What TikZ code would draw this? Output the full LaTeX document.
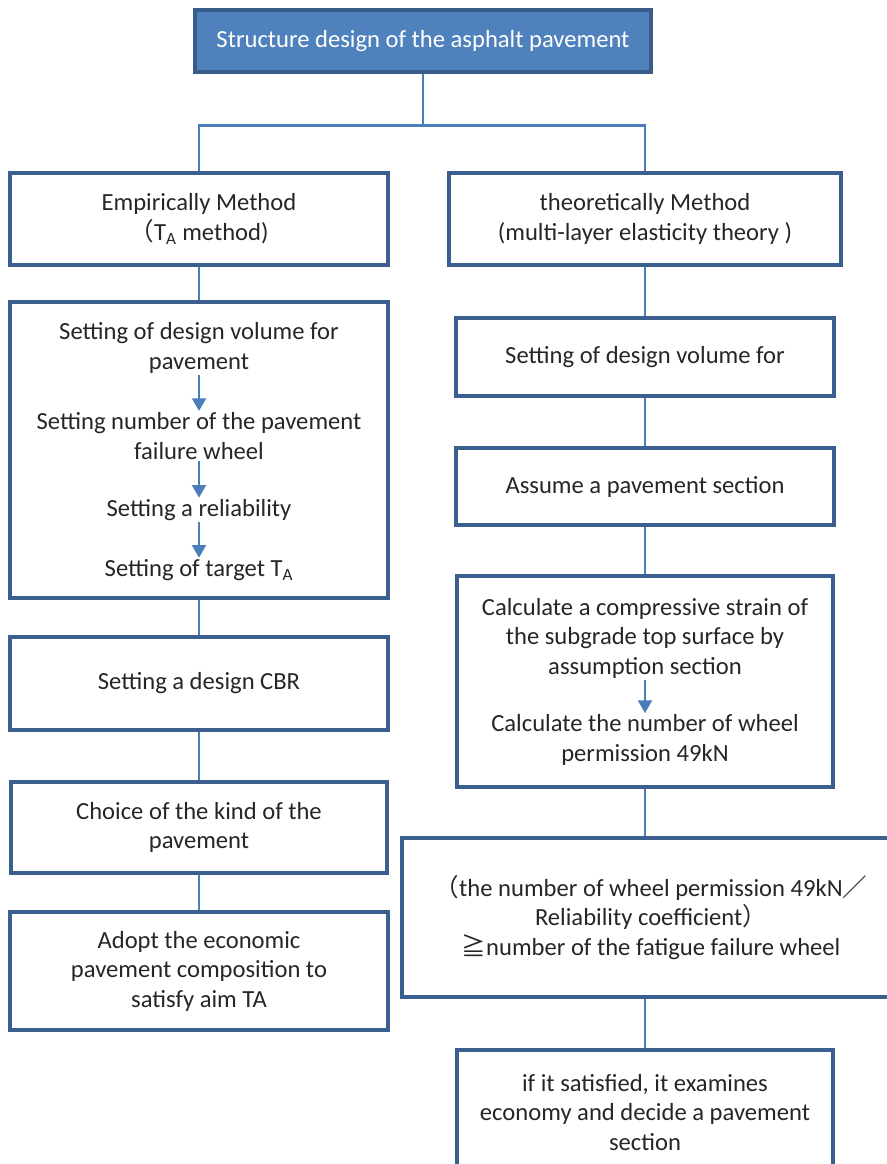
\documentclass[tikz,border=0pt]{standalone}
\usepackage{fontspec}
\setmainfont{Carlito}
\newfontfamily\cjk{Noto Sans CJK JP}
\usetikzlibrary{arrows.meta}
\definecolor{boxblue}{HTML}{3B5F8E}
\definecolor{lineblue}{HTML}{4A7EBB}
\definecolor{headfill}{HTML}{4F81BD}
\definecolor{headline}{HTML}{385D8A}
\begin{document}
\begin{tikzpicture}[x=0.025cm,y=-0.025cm,font=\fontsize{17.5}{21}\selectfont,
        box/.style={draw=boxblue,line width=2.4pt,fill=white,text=black!85,align=center,inner sep=0pt},
        item/.style={text=black!85,align=center,inner sep=1pt},
        link/.style={draw=lineblue,line width=1.9pt},
        flow/.style={draw=lineblue,line width=1.4pt,->,>={Triangle[width=10pt,length=9pt]}}]
                \useasboundingbox (0,0) rectangle (887,1164);
                \clip (0,0) rectangle (887,1164);
                \node[box,fill=headfill,draw=headline,text=white,minimum width=11.4cm,minimum height=1.55cm] (top) at (423,41) {Structure design of the asphalt pavement};
                \node[box,minimum width=9.45cm,minimum height=2.3cm] (emp) at (199,219) {Empirically Method\\{\cjk （}T\textsubscript{A} method)};
                \node[box,minimum width=9.8cm,minimum height=2.3cm] (theo) at (645,219) {theoretically Method\\(multi-layer elasticity theory )};
                \node[box,minimum width=9.45cm,minimum height=7.4cm] (plan) at (199,450) {};
                \node[item] (vol) at (199,348) {Setting of design volume for\\pavement};
                \node[item] (fail) at (199,436) {Setting number of the pavement\\failure wheel};
                \node[item] (rel) at (199,510) {Setting a reliability};
                \node[item] (ta) at (199,570) {Setting of target T\textsubscript{A}};
                \node[box,minimum width=9.45cm,minimum height=2.325cm] (cbr) at (199,683.5) {Setting a design CBR};
                \node[box,minimum width=9.4cm,minimum height=2.275cm] (kind) at (199,827.5) {Choice of the kind of the\\pavement};
                \node[box,minimum width=9.45cm,minimum height=2.95cm] (adopt) at (199,971) {Adopt the economic\\pavement composition to\\satisfy aim TA};
                \node[box,minimum width=9.45cm,minimum height=1.95cm] (vol2) at (645,357) {Setting of design volume for};
                \node[box,minimum width=9.45cm,minimum height=1.925cm] (sect) at (645,486.5) {Assume a pavement section};
                \node[box,minimum width=9.4cm,minimum height=5.275cm] (calc) at (645,681.5) {};
                \node[item] (strain) at (645,638) {Calculate a compressive strain of\\the subgrade top surface by\\assumption section};
                \node[item] (perm) at (645,740) {Calculate the number of wheel\\permission 49kN};
                \node[box,minimum width=12.45cm,minimum height=3.975cm] (check) at (651,917.5) {{\cjk （}the number of wheel permission 49kN{\cjk ／}\\Reliability coefficient{\cjk ）}\\{\cjk ≧}number of the fatigue failure wheel};
                \node[box,minimum width=9.4cm,minimum height=3.125cm] (decide) at (645,1112.5) {if it satisfied, it examines\\economy and decide a pavement\\section};
                \draw[link] (top.south) -- ++(0,52) coordinate (fork);
                \draw[link] (emp.north) |- (fork) -| (theo.north);
                \draw[link] (emp) -- (plan);
                \draw[link] (plan) -- (cbr);
                \draw[link] (cbr) -- (kind);
                \draw[link] (kind) -- (adopt);
                \draw[link] (theo) -- (vol2);
                \draw[link] (vol2) -- (sect);
                \draw[link] (sect) -- (calc);
                \draw[link] (calc.south) -- (calc.south |- check.north);
                \draw[link] (decide.north |- check.south) -- (decide.north);
                \draw[flow] (vol) -- (fail);
                \draw[flow] (fail) -- (rel);
                \draw[flow] (rel) -- (ta);
                \draw[flow] (strain) -- (perm);
            \end{tikzpicture}
\end{document}
